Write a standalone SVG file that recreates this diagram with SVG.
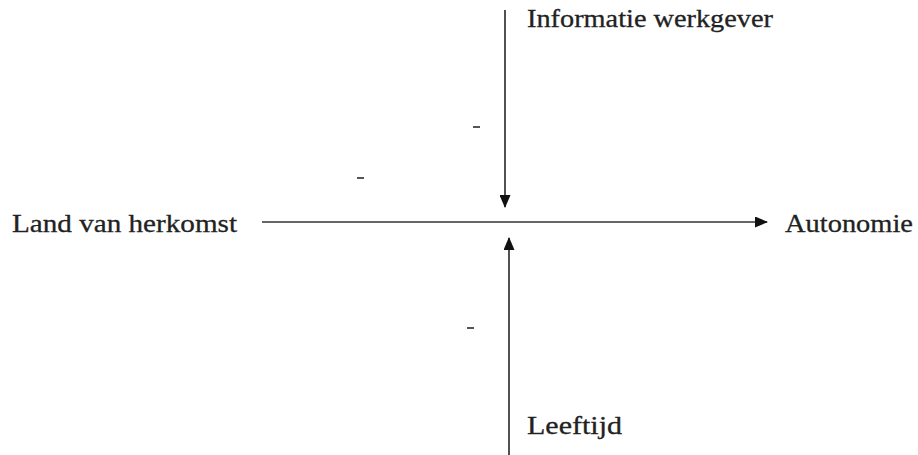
<svg xmlns="http://www.w3.org/2000/svg" width="918" height="455" viewBox="0 0 918 455">
<style>
.t{font-family:"Liberation Serif","Times New Roman",serif;font-size:26px;fill:#222;stroke:#222;stroke-width:0.3}
.ln{stroke:#333;stroke-width:1.7;fill:none}
.d{stroke:#555;stroke-width:2}
</style>
<defs>
<marker id="ah" markerWidth="13" markerHeight="11" refX="12" refY="5.5" orient="auto" markerUnits="userSpaceOnUse" viewBox="0 0 13 11">
<path d="M0,0 L13,5.5 L0,11 Z" fill="#111"/>
</marker>
</defs>
<rect width="918" height="455" fill="#fff"/>
<g id="connectors">
<line class="ln" x1="262" y1="222" x2="767" y2="222" marker-end="url(#ah)"/>
<line class="ln" x1="505" y1="10" x2="505" y2="207" marker-end="url(#ah)"/>
<line class="ln" x1="509" y1="455" x2="509" y2="238" marker-end="url(#ah)"/>
<line class="d" x1="473" y1="127" x2="480" y2="127"/>
<line class="d" x1="357" y1="178" x2="364" y2="178"/>
<line class="d" x1="467" y1="328" x2="474" y2="328"/>
</g>
<g id="land"><text class="t" x="12" y="232" textLength="225" lengthAdjust="spacingAndGlyphs">Land van herkomst</text></g>
<g id="autonomie"><text class="t" x="785" y="232" textLength="128" lengthAdjust="spacingAndGlyphs">Autonomie</text></g>
<g id="informatie"><text class="t" x="527" y="27" textLength="246" lengthAdjust="spacingAndGlyphs">Informatie werkgever</text></g>
<g id="leeftijd"><text class="t" x="527" y="434" textLength="95" lengthAdjust="spacingAndGlyphs">Leeftijd</text></g>
</svg>
